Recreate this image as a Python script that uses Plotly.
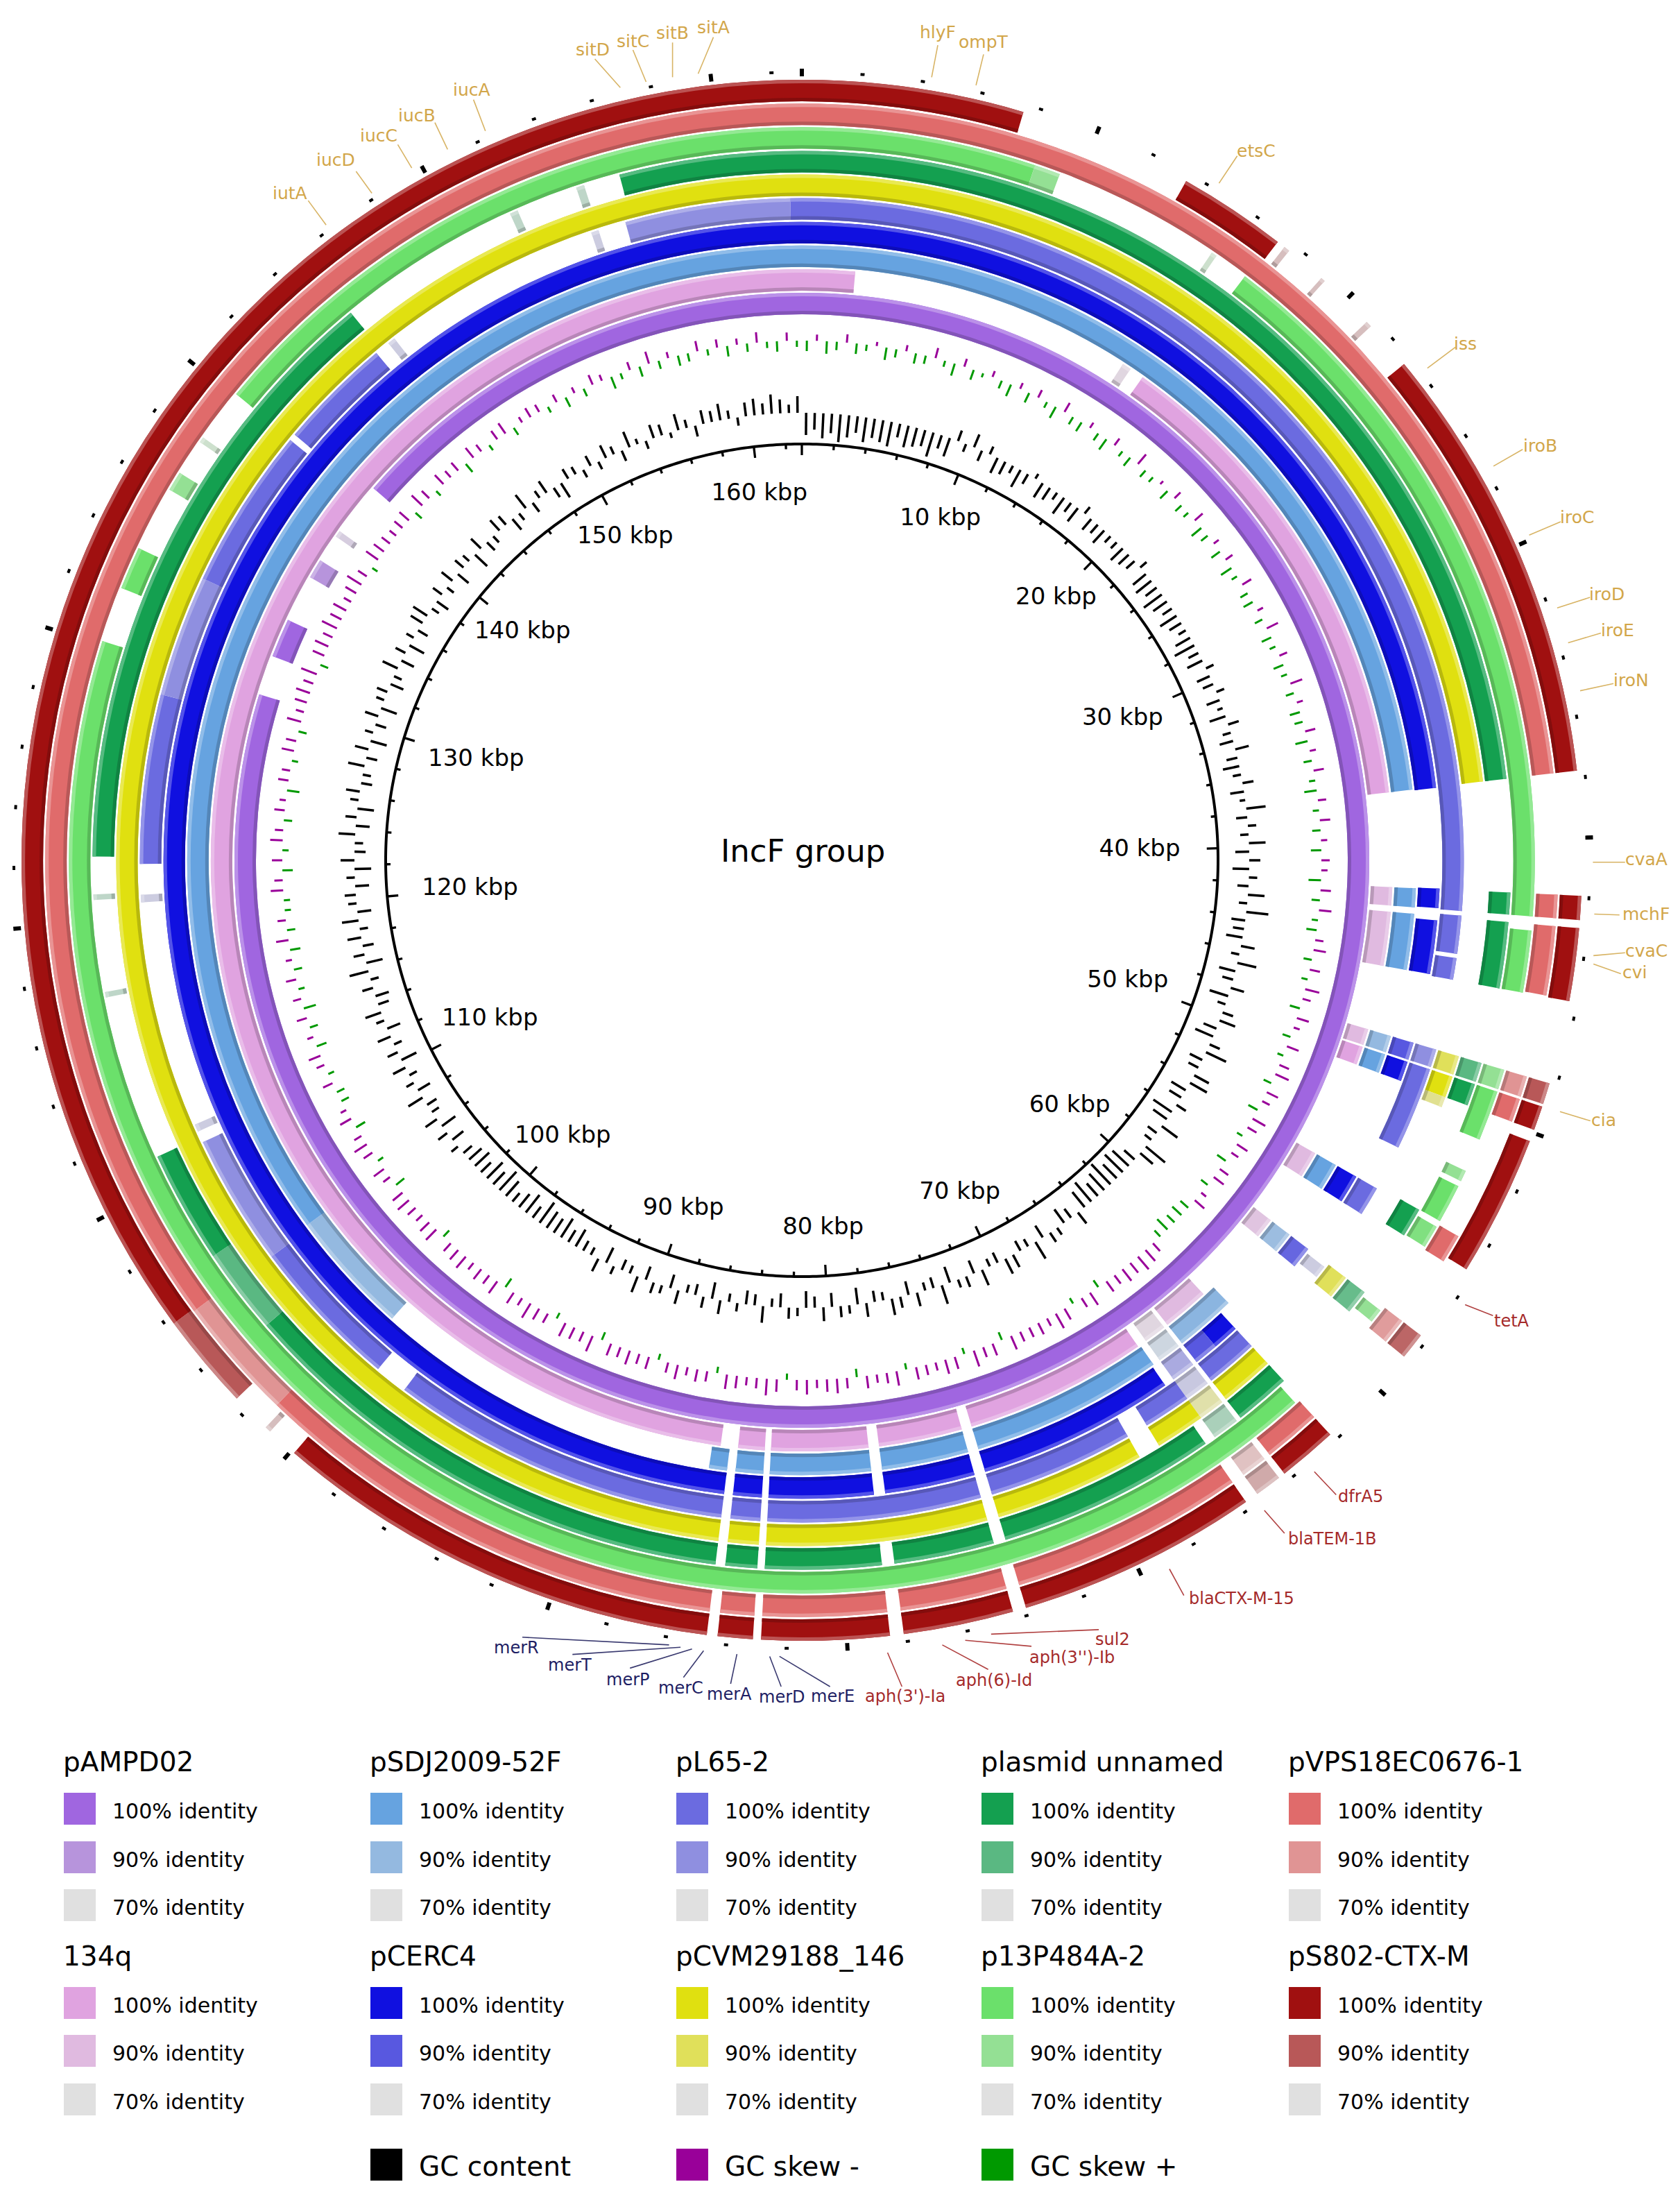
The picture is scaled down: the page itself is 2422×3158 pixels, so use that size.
import numpy as np
import plotly.graph_objects as go

# ---------------- DATA ----------------
L = 163.0  # reference plasmid length (kbp)

RING_ORDER = ["pAMPD02", "134q", "pSDJ2009-52F", "pCERC4", "pL65-2",
              "pCVM29188_146", "plasmid unnamed", "p13P484A-2",
              "pVPS18EC0676-1", "pS802-CTX-M"]

COLOR_100 = ["#a066e0", "#e0a3e0", "#66a3e0", "#1010e0", "#6b6be0",
             "#e0e010", "#14a050", "#6be06b", "#e06b6b", "#a01010"]
COLOR_90 = ["#b794dc", "#e0bae0", "#94b9e0", "#5858e0", "#8f8fe0",
            "#e0e05a", "#5ab882", "#94e094", "#e09494", "#b85858"]
COLOR_70 = "#e0e0e0"

# BLAST hit segments: (start kbp, end kbp, identity %)
SEG_pAMPD02 = [(0, 129.95, 100), (131.8, 133.6, 100), (135.8, 136.7, 90),
               (138.0, 138.3, 75), (140.8, 163, 100)]
SEG_134q = [(0, 2.35, 100), (14.9, 15.3, 75), (15.94, 37.76, 100), (41.93, 42.74, 90),
            (43.01, 45.41, 90), (48.27, 48.99, 90), (49.08, 49.9, 100), (54.2, 55.37, 90),
            (57.73, 58.63, 85), (62.12, 64.2, 90), (64.38, 65.38, 75), (65.8, 73.94, 100),
            (74.39, 78.1, 100), (78.56, 82.86, 100), (83.13, 84.31, 100), (85.08, 163, 100)]
SEG_pSDJ2009 = [(0, 37.76, 100), (41.93, 42.74, 100), (43.01, 45.41, 100), (48.27, 48.99, 90),
                (49.08, 49.9, 100), (54.2, 55.37, 100), (57.73, 58.63, 88), (61.6, 64.2, 92),
                (64.38, 65.38, 75), (65.7, 73.94, 100), (74.39, 78.1, 100), (78.56, 82.86, 100),
                (83.13, 84.31, 100), (84.67, 85.44, 100), (100.43, 105.77, 90), (105.77, 163, 100)]
SEG_pCERC4 = [(0, 37.8, 100), (41.9, 42.7, 100), (43.2, 45.4, 100), (48.27, 48.99, 90),
              (49.08, 49.9, 100), (54.2, 55.37, 100), (57.73, 58.63, 88), (62.12, 63.2, 100),
              (63.2, 64.2, 90), (64.38, 65.38, 78), (65.79, 73.94, 100), (74.39, 78.1, 100),
              (78.56, 82.86, 100), (83.13, 84.31, 100), (84.67, 163, 100)]
SEG_pL65 = [(0, 42.74, 100), (42.92, 44.43, 100), (44.6, 45.46, 100), (48.27, 48.99, 90),
            (49.08, 52.39, 100), (54.2, 55.37, 100), (57.9, 58.4, 75), (62.12, 64.2, 100),
            (64.38, 65.38, 76), (65.38, 67.28, 100), (68.14, 73.94, 100), (74.39, 82.86, 100),
            (83.13, 84.31, 100), (84.67, 98.21, 100), (99.52, 105.6, 100), (105.6, 110.84, 90),
            (111.3, 111.6, 75), (120.6, 120.9, 75), (122.11, 128.82, 100), (128.82, 133.66, 90),
            (133.66, 140.09, 100), (140.36, 144.89, 100), (145.5, 145.8, 75), (154.6, 154.9, 75),
            (156.0, 162.55, 90), (162.55, 163, 100)]
SEG_pCVM = [(0, 37.76, 100), (48.27, 48.99, 90), (49.08, 49.9, 100), (49.9, 50.3, 82),
            (57.73, 58.63, 90), (62.12, 64.2, 100), (64.38, 65.38, 78), (65.38, 67.28, 100),
            (68.14, 73.94, 100), (74.39, 82.86, 100), (83.13, 84.31, 100), (84.67, 163, 100)]
SEG_unnamed = [(0, 37.76, 100), (41.93, 42.74, 100), (43.01, 45.46, 100), (48.27, 48.99, 90),
               (49.08, 49.9, 100), (54.11, 55.2, 100), (57.73, 58.63, 88), (62.12, 64.2, 100),
               (64.38, 65.38, 78), (65.79, 73.94, 100), (74.39, 78.1, 100), (78.56, 82.86, 100),
               (83.13, 84.31, 100), (84.67, 103.7, 100), (103.7, 106.9, 90), (106.9, 111.07, 100),
               (117.2, 117.4, 75), (120.8, 121.0, 75), (122.39, 145.12, 100), (152.0, 152.3, 75),
               (154.6, 154.9, 75), (156.25, 163, 100)]
SEG_p13P = [(0, 8.4, 100), (8.4, 9.33, 90), (15.4, 15.6, 75), (16.84, 42.74, 100),
            (43.24, 45.46, 100), (48.27, 48.99, 90), (49.08, 50.89, 100), (52.1, 52.5, 90),
            (52.7, 54.1, 100), (54.33, 55.15, 95), (57.9, 58.4, 90), (62.35, 130.13, 100),
            (132.12, 133.66, 100), (136.0, 136.7, 90), (138.0, 138.2, 75), (140.13, 163, 100)]
SEG_pVPS18 = [(0, 37.76, 100), (41.93, 42.74, 100), (43.01, 45.41, 100), (48.27, 48.99, 90),
              (49.08, 49.9, 100), (54.24, 55.24, 100), (57.73, 58.63, 88), (62.2, 64.2, 100),
              (64.43, 65.33, 78), (65.79, 73.94, 100), (74.39, 78.1, 100), (78.56, 82.86, 100),
              (83.13, 84.31, 100), (84.67, 101.4, 100), (101.4, 105.7, 90), (105.7, 163, 100)]
SEG_pS802 = [(0, 7.47, 100), (13.36, 17.02, 100), (17.3, 17.5, 75), (18.9, 19.05, 75),
             (21.0, 21.2, 75), (22.87, 37.76, 100), (41.93, 42.74, 100), (43.01, 45.46, 100),
             (48.27, 48.99, 90), (49.08, 49.9, 100), (50.3, 55.06, 100), (57.73, 58.63, 88),
             (62.2, 64.2, 100), (64.43, 65.33, 78), (65.79, 73.94, 100), (74.39, 78.1, 100),
             (78.56, 82.86, 100), (83.13, 84.31, 100), (84.67, 99.88, 100), (100.95, 101.15, 75),
             (102.51, 105.77, 90), (105.77, 163, 100)]

# GC content deviation per 0.5 kbp window (relative units; negative = below average)
GC_CONTENT = [
    -8, -6, -9, -7, -10, -8, -6, -9, -7, -8, -9, -5, -8, -7, -6, -9, -5, -7, 4, -3,
    5, -4, 3, -6, -5, -3, -7, -4, 2, -6, -5, -3, -7, -4, -6, 3, -5, -4, -6, -3,
    -3, -6, -5, -4, 3, -6, -7, -5, -8, -6, -4, -7, -5, -3, -6, -8, -4, -6, 3, -5,
    -4, 3, -5, -2, -6, 4, -3, -5, 5, -4, -6, -3, 4, -5, -2, 7, -4, 3, -3, 6,
    -5, 4, -6, 3, -4, 6, -3, 8, -5, -4, -6, 5, -3, 7, -6, -4, 5, -7, -3, 4,
    6, -5, -7, 4, 8, -5, -4, 6, 7, -6, -5, 4, -8, -6, 7, -4, -3, 9, 6, -5,
    -8, -9, -7, -10, -8, -6, -9, -7, 5, -4, -6, 3, 4, -5, 7, -3, -4, 5, 6, -4,
    -3, 6, -5, 4, 3, -6, 7, -4, -3, 5, -5, 4, 6, -3, -4, 5, -6, 3, 4, -5,
    5, -4, -6, 3, 4, -5, -3, 6, -4, -5, 3, -3, 5, -6, 4, -4, -3, 5, -5, 3,
    4, -5, 6, -3, -4, 3, -6, 5, -3, -4, -7, -5, -8, -6, -7, -9, -5, -8, -6, -4,
    -7, -9, -6, -8, -5, -7, -6, -4, 3, -5, 4, -6, 5, -3, -4, 6, -5, 3, -3, 5,
    -6, 4, -3, 5, -5, 3, 6, -4, -5, 4, -3, 7, -6, 4, -4, 5, -3, 6, -5, 3,
    4, -5, 3, -6, 5, -4, -3, 6, -5, 4, -6, 3, 5, -4, -3, 6, -4, 5, -6, 3,
    -4, 5, -6, 3, 4, -5, -3, 6, -5, 4, -6, 3, -4, 5, 6, -3, -5, 4, -3, 5,
    -5, 4, 3, -6, 5, -4, -3, 5, 4, -5, -3, 6, -4, 3, 5, -4, -6, 4, 3, -3,
    4, -3, 5, 3, -4, 6, 2, -3, 5, 4, -2, 6, 3, -4, 5, 4, 6, 3, -3, 5,
    6, 4, 7, 5, 3, 6]

# GC skew per 0.5 kbp window (negative = GC skew -, positive = GC skew +)
GC_SKEW = [
    5, -3, 6, 4, -4, 5, 3, -2, 6, 4, -3, 5, 4, -5, 3, 6, -4, 5, 2, -3,
    4, 6, -3, 5, -4, 3, 6, -5, 4, 5, -3, 4, 6, -4, 3, 5, -6, 4, 3, -2,
    5, -4, 4, 3, -5, 6, 4, -3, 5, -4, 6, 3, -5, 4, 5, -3, 4, -6, 5, 3,
    -4, 5, 3, -6, 4, -3, 5, 4, -5, 6, -3, 4, -5, 3, 6, -4, 3, -5, 4, -3,
    5, -4, -3, 6, -5, 4, -6, 3, 5, -4, -6, 4, -5, 3, -7, -4, 5, -6, -3, 4,
    -6, 3, -5, -7, 4, -6, -4, 5, -7, -5, 3, -6, -4, 5, -5, -6, 4, -3, -6, 5,
    6, 5, 7, 4, -5, -7, -8, -6, -7, -5, -6, 4, -7, -5, 3, -6, -8, -4, -6, -5,
    -5, -7, 4, -6, -5, -8, 3, -6, -7, -4, -5, -6, 3, -7, -5, -4, -6, 4, -5, -7,
    -6, -4, -7, -5, 3, -6, -8, -5, -4, -6, -7, 3, -5, -6, -4, -7, -5, 3, -6, -5,
    -7, -5, -6, 4, -8, -5, -6, -7, 3, -5, -6, -8, -4, -6, 5, -7, -5, -6, -4, -7,
    -6, -5, 4, -7, -6, -4, -5, -7, -6, 5, -4, -6, 3, -5, -7, -4, 5, -6, -3, 4,
    4, -5, 3, -4, -6, 5, -3, 4, -5, 6, -4, 3, -5, 4, -3, 5, -6, 4, -4, 3,
    3, -6, -4, 5, -5, 3, -6, -4, 4, -5, -3, 6, -5, -4, 3, -6, -5, 4, -7, -4,
    -6, -7, -5, -8, 4, -6, -7, -5, -8, -6, -7, -4, -6, -8, -5, 3, -7, -6, -5, -4,
    -5, -6, 4, -7, -5, 3, -6, -4, -5, 5, -6, -4, 3, -5, -6, 4, -3, -5, -4, 3,
    -4, 5, -3, 4, -5, -3, 6, 3, -4, 5, -6, 4, -3, 5, 4, -5, 3, -4, 5, -3,
    4, -5, 3, 5, -4, 3]
WINDOW_KBP = 0.5

TICK_KBP = [10, 20, 30, 40, 50, 60, 70, 80, 90, 100, 110, 120, 130, 140, 150, 160]
TICK_TEXT = ["10 kbp", "20 kbp", "30 kbp", "40 kbp", "50 kbp", "60 kbp", "70 kbp", "80 kbp",
             "90 kbp", "100 kbp", "110 kbp", "120 kbp", "130 kbp", "140 kbp", "150 kbp", "160 kbp"]

GENES_GOLD = ["iutA", "iucD", "iucC", "iucB", "iucA", "sitD", "sitC", "sitB", "sitA", "hlyF",
              "ompT", "etsC", "iss", "iroB", "iroC", "iroD", "iroE", "iroN", "cvaA", "mchF",
              "cvaC", "cvi", "cia"]
GENES_RES = ["tetA", "dfrA5", "blaTEM-1B", "blaCTX-M-15", "sul2", "aph(3'')-Ib", "aph(6)-Id",
             "aph(3')-Ia"]
GENES_MER = ["merE", "merD", "merA", "merC", "merP", "merT", "merR"]

LEGEND_ROW1 = ["pAMPD02", "pSDJ2009-52F", "pL65-2", "plasmid unnamed", "pVPS18EC0676-1"]
LEGEND_ROW2 = ["134q", "pCERC4", "pCVM29188_146", "p13P484A-2", "pS802-CTX-M"]
LEGEND_LEVELS = ["100% identity", "90% identity", "70% identity"]

# ---------------- LAYOUT / STYLE ----------------
W, H = 2422, 3158
S = 2.018                            # design px -> page px
CX, CY = 1148.0, 1232.0              # centre of the map in page px
RMAX = 1148.0
FONT = "DejaVu Sans"

RING_R0 = 787.0
RING_STEP = 34.1
RING_TH = 31.0
R_CIRCLE = 600.0
R_TICKLAB = 531.0
TICK_FONT = 34
GC_BASE, GC_SCALE = 645.0, 4.0
SK_BASE, SK_SCALE = 749.0, 3.0

GOLD, RED, NAVY = "#d2a64a", "#a52a2a", "#1e1e64"

# label layout in design px: text centre, leader start, leader end
LABEL_POS = {
    "iutA": (203.4, 134.1, 216.2, 139.3, 229, 156.7),
    "iucD": (236, 110.4, 250.4, 118.4, 261.7, 134),
    "iucC": (266.6, 93, 280.2, 99.3, 290.2, 116),
    "iucB": (293.9, 78.4, 306.7, 83.6, 315.8, 102.8),
    "iucA": (332.9, 60.3, 334.3, 67.2, 342.8, 89.6),
    "sitD": (419.7, 31.4, 421, 38.2, 439.2, 58.6),
    "sitC": (448, 25.6, 448.2, 31.7, 457.6, 54.5),
    "sitB": (476.3, 19.8, 476.5, 26.4, 476.5, 51.2),
    "sitA": (505.7, 15.7, 505.7, 22.6, 494.8, 48.7),
    "hlyF": (666, 19, 666, 28.3, 661.6, 51.2),
    "ompT": (698.8, 26.1, 698.7, 34.9, 693.3, 57),
    "etsC": (893.7, 103.8, 879.9, 107.4, 866.9, 126.9),
    "iss": (1042.8, 241.6, 1035.8, 244, 1015.8, 259),
    "iroB": (1096.3, 314.6, 1083.8, 317, 1063, 329),
    "iroC": (1122.8, 365.7, 1111, 368.7, 1088.5, 378.2),
    "iroD": (1144, 420.3, 1131.9, 422.7, 1108.5, 430.2),
    "iroE": (1151.4, 446.1, 1139.7, 448.2, 1116.3, 455.2),
    "iroN": (1161.3, 481.9, 1148.7, 484.3, 1124.9, 489.4),
    "cvaA": (1172, 609.8, 1157, 611.9, 1134, 611.9),
    "mchF": (1172, 648.9, 1153, 649.5, 1135, 648.9),
    "cvaC": (1172, 675, 1157, 676.5, 1134.4, 678.6),
    "cvi": (1164, 690.6, 1154, 691.5, 1134.4, 684.6),
    "cia": (1141.7, 796, 1132.2, 796.6, 1110.5, 790),
    "tetA": (1076.3, 939.3, 1062.6, 935.7, 1042.7, 927.9),
    "dfrA5": (968, 1065, 950.6, 1063.7, 935, 1047.2),
    "blaTEM-1B": (948, 1095, 913.7, 1091.2, 899.3, 1074.8),
    "blaCTX-M-15": (883, 1138, 841.8, 1135.6, 831.5, 1116.7),
    "sul2": (791, 1167, 781, 1160, 704.1, 1163.2),
    "aph(3'')-Ib": (761.7, 1180, 732.9, 1171.9, 685.6, 1167.6),
    "aph(6)-Id": (706.1, 1196, 702, 1188.4, 669.2, 1170.9),
    "aph(3')-Ia": (642.5, 1207.5, 640.4, 1200.7, 630.1, 1176.4),
    "merE": (591.1, 1207.5, 589, 1200.7, 552.9, 1179.1),
    "merD": (555, 1208.2, 554.1, 1200.7, 545.9, 1179.1),
    "merA": (517.2, 1206.3, 518, 1198.7, 522.5, 1177.5),
    "merC": (482.2, 1201.7, 484.3, 1194.1, 498.7, 1175),
    "merP": (444.4, 1195.5, 446.1, 1187.5, 490.4, 1173.8),
    "merT": (403.3, 1185.3, 405, 1177.7, 482.2, 1172.6),
    "merR": (365.1, 1172.9, 369.2, 1165.4, 474, 1170.9),
}

# approximate DejaVu Sans advance widths (em) for tick-label placement
CHAR_EM = {"0": .636, "1": .636, "2": .636, "3": .636, "4": .636, "5": .636, "6": .636,
           "7": .636, "8": .636, "9": .636, " ": .318, "k": .579, "b": .635, "p": .635}


def _rgb(h):
    h = h.lstrip("#")
    return [int(h[i:i + 2], 16) for i in (0, 2, 4)]


def _hex(c):
    return "#%02x%02x%02x" % tuple(int(round(max(0, min(255, v)))) for v in c)


def mix(a, b, t):
    A, B = _rgb(a), _rgb(b)
    return _hex([A[i] + (B[i] - A[i]) * t for i in range(3)])


def ident_color(idn, c100, c90):
    if idn >= 90:
        return mix(c90, c100, (idn - 90) / 10.0)
    return mix(COLOR_70, c90, max(0.0, (idn - 70) / 20.0))


def deg(k):
    return k * 360.0 / L


SEGMENTS = [SEG_pAMPD02, SEG_134q, SEG_pSDJ2009, SEG_pCERC4, SEG_pL65,
            SEG_pCVM, SEG_unnamed, SEG_p13P, SEG_pVPS18, SEG_pS802]

fig = go.Figure()

# ---- identity rings ----
for i, segs in enumerate(SEGMENTS):
    r0 = RING_R0 + RING_STEP * i
    th = [deg((s + e) / 2) for s, e, _ in segs]
    wd = [deg(e - s) for s, e, _ in segs]
    cols = [ident_color(idn, COLOR_100[i], COLOR_90[i]) for _, _, idn in segs]
    n = len(segs)
    layers = [
        (r0, RING_TH, cols),
        (r0 + RING_TH - 5, 5, [mix(c, "#ffffff", 0.28) for c in cols]),
        (r0, 5, [mix(c, "#000000", 0.18) for c in cols]),
    ]
    for base, thick, cc in layers:
        fig.add_trace(go.Barpolar(theta=th, width=wd, base=[base] * n, r=[thick] * n,
                                  marker=dict(color=cc, line=dict(width=0)),
                                  hoverinfo="skip", showlegend=False))


def spikes(values, base, scale, keep):
    th, rr = [], []
    for k, v in enumerate(values):
        if not keep(v):
            continue
        t = deg((k + 0.5) * WINDOW_KBP)
        th += [t, t, None]
        rr += [base, base + v * scale, None]
    return th, rr


# ---- GC content (spikes from the average line) ----
th, rr = spikes(GC_CONTENT, GC_BASE, GC_SCALE, lambda v: True)
fig.add_trace(go.Scatterpolar(theta=th, r=rr, mode="lines", line=dict(color="#000000", width=3.5),
                              hoverinfo="skip", showlegend=False))

# ---- GC skew (negative drawn outward in purple, positive inward in green) ----
th, rr = spikes([-v for v in GC_SKEW], SK_BASE, SK_SCALE, lambda v: v > 0)
fig.add_trace(go.Scatterpolar(theta=th, r=rr, mode="lines", line=dict(color="#990099", width=3),
                              hoverinfo="skip", showlegend=False))
th, rr = spikes([-v for v in GC_SKEW], SK_BASE, SK_SCALE, lambda v: v < 0)
fig.add_trace(go.Scatterpolar(theta=th, r=rr, mode="lines", line=dict(color="#009900", width=3),
                              hoverinfo="skip", showlegend=False))

# ---- inner scale circle and ticks ----
circ_t = np.linspace(0, 360, 721)
fig.add_trace(go.Scatterpolar(theta=circ_t, r=[R_CIRCLE] * len(circ_t), mode="lines",
                              line=dict(color="black", width=4), hoverinfo="skip",
                              showlegend=False))
tick_k = list(range(0, 163, 2))
major = [k % 10 == 0 for k in tick_k]
fig.add_trace(go.Barpolar(theta=[deg(k) for k in tick_k], width=[0.32] * len(tick_k),
                          base=[R_CIRCLE - (16 if m else 7) for m in major],
                          r=[16 if m else 7 for m in major],
                          marker=dict(color="black", line=dict(width=0)),
                          hoverinfo="skip", showlegend=False))
fig.add_trace(go.Barpolar(theta=[deg(k) for k in tick_k], width=[0.3] * len(tick_k),
                          base=[1130 if m else 1134 for m in major],
                          r=[11 if m else 4 for m in major],
                          marker=dict(color="black", line=dict(width=0)),
                          hoverinfo="skip", showlegend=False))

# tick labels sit inside the circle; pull wide labels inward near 3 and 9 o'clock
lab_r = []
for k, t in zip(TICK_KBP, TICK_TEXT):
    hw = sum(CHAR_EM.get(ch, 0.6) for ch in t) * TICK_FONT / 2
    lab_r.append(R_TICKLAB - 0.75 * hw * abs(np.sin(np.radians(deg(k)))) ** 6)
fig.add_trace(go.Scatterpolar(theta=[deg(k) for k in TICK_KBP], r=lab_r,
                              mode="text", text=TICK_TEXT,
                              textfont=dict(family=FONT, size=TICK_FONT, color="black"),
                              hoverinfo="skip", showlegend=False, cliponaxis=False))

dom_x = [(CX - RMAX) / W, (CX + RMAX) / W]
dom_y = [1 - (CY + RMAX) / H, 1 - (CY - RMAX) / H]

annotations = []
shapes = []


def px(x):
    return x * S / W


def py(y):
    return 1 - y * S / H


annotations.append(dict(x=px(569.5), y=py(604), xref="paper", yref="paper", text="IncF group",
                        showarrow=False, xanchor="center", yanchor="middle",
                        font=dict(family=FONT, size=45, color="black")))

for group, color, lcolor, size in [(GENES_GOLD, GOLD, "#d8b465", 25),
                                   (GENES_RES, RED, "#b04040", 24),
                                   (GENES_MER, NAVY, "#3a3a70", 24)]:
    for g in group:
        tx, ty, x0, y0, x1, y1 = LABEL_POS[g]
        annotations.append(dict(x=px(tx), y=py(ty), xref="paper", yref="paper", text=g,
                                showarrow=False, xanchor="center", yanchor="middle",
                                font=dict(family=FONT, size=size, color=color)))
        shapes.append(dict(type="line", xref="paper", yref="paper", x0=px(x0), y0=py(y0),
                           x1=px(x1), y1=py(y1), line=dict(color=lcolor, width=1.6)))

# ---- legend ----
COL_X = [84, 526, 967, 1407, 1850]
SQ = 46
ROW_TITLE_Y = [2531, 2811]
ROW_SQ_Y = [[2599, 2669, 2738], [2879, 2948, 3018]]
ring_index = {n: i for i, n in enumerate(RING_ORDER)}


def add_square(x, cy, color):
    shapes.append(dict(type="rect", xref="paper", yref="paper", x0=x / W, x1=(x + SQ) / W,
                       y0=1 - (cy + SQ / 2) / H, y1=1 - (cy - SQ / 2) / H,
                       fillcolor=color, line=dict(width=0)))


for row, names in enumerate([LEGEND_ROW1, LEGEND_ROW2]):
    for c, name in enumerate(names):
        i = ring_index[name]
        x = COL_X[c]
        annotations.append(dict(x=(x - 3) / W, y=1 - ROW_TITLE_Y[row] / H, xref="paper",
                                yref="paper", text=name, showarrow=False, xanchor="left",
                                yanchor="middle", font=dict(family=FONT, size=39, color="black")))
        cols = [COLOR_100[i], COLOR_90[i], COLOR_70]
        for j, lab in enumerate(LEGEND_LEVELS):
            cy = ROW_SQ_Y[row][j]
            add_square(x, cy, cols[j])
            annotations.append(dict(x=(x + 68) / W, y=1 - (cy + 3) / H, xref="paper",
                                    yref="paper", text=lab, showarrow=False, xanchor="left",
                                    yanchor="middle",
                                    font=dict(family=FONT, size=30, color="black")))

for c, (lab, color) in zip([1, 2, 3], [("GC content", "#000000"), ("GC skew -", "#990099"),
                                       ("GC skew +", "#009900")]):
    add_square(COL_X[c], 3112, color)
    annotations.append(dict(x=(COL_X[c] + 68) / W, y=1 - 3114 / H, xref="paper", yref="paper",
                            text=lab, showarrow=False, xanchor="left", yanchor="middle",
                            font=dict(family=FONT, size=39, color="black")))

fig.update_layout(
    width=W, height=H, margin=dict(l=0, r=0, t=0, b=0),
    paper_bgcolor="white", plot_bgcolor="white", showlegend=False,
    polar=dict(domain=dict(x=dom_x, y=dom_y), bgcolor="rgba(0,0,0,0)", barmode="overlay",
               radialaxis=dict(visible=False, range=[0, RMAX]),
               angularaxis=dict(visible=False, rotation=90, direction="clockwise")),
    annotations=annotations, shapes=shapes,
)

fig.write_html("out.html")
